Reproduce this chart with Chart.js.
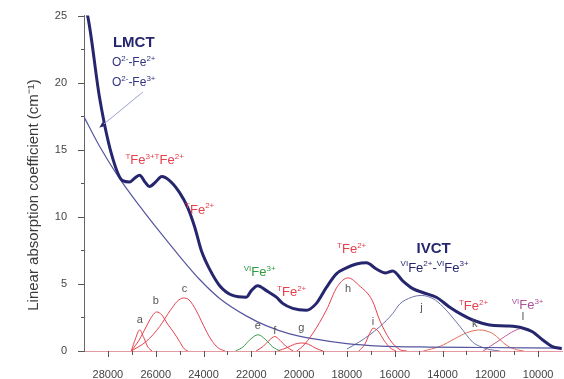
<!DOCTYPE html>
<html>
<head>
<meta charset="utf-8">
<script src="https://cdn.jsdelivr.net/npm/chart.js@4.4.0/dist/chart.umd.min.js"></script>
<style>
  html, body { margin: 0; padding: 0; background: #fff; }
  #wrap { width: 564px; height: 379px; }
</style>
</head>
<body>
<div id="wrap"><canvas id="absChart" width="564" height="379"></canvas></div>
<script>
// [wavenumber cm-1, absorption cm-1]
const totalCurve = [
  [29000, 25.6], [28850, 25.0], [28350, 18.9], [27860, 14.75], [27385, 12.7], [27090, 12.6],
  [26870, 12.9], [26670, 13.1], [26450, 12.6], [26255, 12.26], [26000, 12.6], [25750, 13.0],
  [25420, 12.7], [25000, 11.8], [24665, 10.7], [24372, 9.26], [24080, 7.43], [23745, 6.1],
  [23324, 4.87], [22780, 4.14], [22207, 4.01], [21998, 4.5], [21733, 4.87], [21369, 4.5],
  [20950, 4.01], [20687, 3.55], [20268, 3.18], [19695, 3.04], [19276, 3.55], [18857, 4.74],
  [18440, 5.75], [18020, 6.19], [17600, 6.48], [17183, 6.57], [16765, 6.11], [16375, 5.82],
  [16082, 5.97], [15665, 5.23], [15245, 4.65], [14828, 4.36], [14240, 3.99], [13697, 3.26],
  [13153, 2.67], [12735, 2.31], [12023, 1.94], [11326, 1.87], [10656, 1.72], [10236, 1.43],
  [9818, 0.84], [9400, 0.33], [9022, 0.18]
];
const lmctCurve = [
  [29000, 17.45], [28350, 15.26], [27510, 12.85], [26670, 10.8], [25836, 8.89], [25000, 7.06],
  [24160, 5.33], [23324, 3.92], [22194, 2.6], [21357, 1.87], [20394, 1.28], [19432, 0.92],
  [18008, 0.55], [16627, 0.37], [14534, 0.29], [12441, 0.26], [9000, 0.22]
];
const peakA = [[27020, 0], [26850, 0.9], [26670, 1.57], [26500, 1.0], [26330, 0.3], [26150, 0]];
const peakB = [[27020, 0], [26700, 0.8], [26400, 1.8], [26150, 2.6], [25960, 2.91], [25750, 2.7],
  [25500, 2.0], [25250, 1.4], [25000, 0.7], [24800, 0.15], [24650, 0]];
const peakC = [[27020, 0], [26390, 0.72], [25836, 1.82], [25400, 3.0], [25100, 3.7], [24850, 3.95],
  [24600, 3.8], [24300, 3.0], [24000, 1.9], [23700, 0.9], [23400, 0.25], [23100, 0]];
const peakE = [[22650, 0], [22350, 0.3], [22050, 0.85], [21720, 1.21], [21400, 0.85], [21100, 0.3], [20800, 0]];
const peakF = [[21800, 0], [21500, 0.35], [21250, 0.8], [21020, 1.08], [20800, 0.8], [20550, 0.35], [20250, 0]];
const peakG = [[20900, 0], [20500, 0.25], [20200, 0.5], [19900, 0.6], [19600, 0.5], [19300, 0.2], [19000, 0]];
const peakH = [[20100, 0], [19850, 0.35], [19420, 1.33], [18860, 3.04], [18400, 4.8], [17950, 5.45],
  [17500, 4.9], [16940, 3.77], [16630, 2.3], [16200, 0.84], [15780, 0.1], [15500, 0]];
const peakI = [[17500, 0], [17250, 0.5], [17050, 1.3], [16900, 1.7], [16700, 1.5], [16450, 0.8], [16200, 0.25], [15950, 0]];
const peakJ = [[18000, 0.15], [17460, 0.7], [16630, 1.8], [16080, 2.8], [15790, 3.5], [15300, 4.0],
  [14880, 4.14], [14400, 3.9], [13980, 3.3], [13280, 1.85], [12730, 0.65], [12440, 0.35], [12000, 0.1], [11600, 0]];
const peakK = [[14800, 0], [14100, 0.35], [13500, 0.9], [13000, 1.35], [12450, 1.57], [11900, 1.3], [11300, 0.4], [10900, 0.1], [10600, 0]];
const peakL = [[12300, 0], [12000, 0.35], [11500, 0.95], [11000, 1.5], [10630, 1.7], [10250, 1.45], [9800, 0.8], [9400, 0.3], [9000, 0.1]];

const xTickLabels = [28000, 26000, 24000, 22000, 20000, 18000, 16000, 14000, 12000, 10000];
const yTickLabels = [0, 5, 10, 15, 20, 25];

const RED = '#e5414d';
const NAVY = '#26266f';

const components = [
  { name: 'a', pts: peakA, color: RED, at: [26670, 2.3] },
  { name: 'b', pts: peakB, color: RED, at: [26000, 3.75] },
  { name: 'c', pts: peakC, color: RED, at: [24790, 4.6] },
  { name: 'e', pts: peakE, color: '#3a9e4a', at: [21730, 1.85] },
  { name: 'f', pts: peakF, color: RED, at: [21020, 1.5] },
  { name: 'g', pts: peakG, color: RED, at: [19905, 1.7] },
  { name: 'h', pts: peakH, color: RED, at: [17950, 4.65] },
  { name: 'i', pts: peakI, color: RED, at: [16907, 2.2] },
  { name: 'j', pts: peakJ, color: '#6c72a6', at: [14880, 3.2] },
  { name: 'k', pts: peakK, color: '#e0705a', at: [12650, 2.0] },
  { name: 'l', pts: peakL, color: '#c05a9a', at: [10630, 2.5] }
];

// text on the plot; {..} marks a superscript
const notes = [
  { t: 'LMCT', at: [26920, 23.0], color: NAVY, font: 'bold 15px', sup: 10 },
  { t: 'O{2-}-Fe{2+}', at: [26920, 21.5], color: '#333380', font: '12px', sup: 8 },
  { t: 'O{2-}-Fe{3+}', at: [26920, 20.0], color: '#333380', font: '12px', sup: 8 },
  { t: '{T}Fe{3+}{T}Fe{2+}', at: [26045, 14.2], color: RED, font: '13px', sup: 8 },
  { t: '{T}Fe{2+}', at: [24160, 10.5], color: RED, font: '13px', sup: 8 },
  { t: '{VI}Fe{3+}', at: [21650, 5.82], color: '#2f9a40', font: '13px', sup: 8 },
  { t: '{T}Fe{2+}', at: [20310, 4.36], color: RED, font: '13px', sup: 8 },
  { t: '{T}Fe{2+}', at: [17800, 7.58], color: RED, font: '13px', sup: 8 },
  { t: 'IVCT', at: [14370, 7.58], color: NAVY, font: 'bold 15px', sup: 10 },
  { t: '{VI}Fe{2+}-{VI}Fe{3+}', at: [14330, 6.19], color: NAVY, font: '13px', sup: 8 },
  { t: '{T}Fe{2+}', at: [12700, 3.33], color: RED, font: '13px', sup: 8 },
  { t: '{VI}Fe{3+}', at: [10440, 3.4], color: '#b0509a', font: '13px', sup: 8 }
];

const FONT = '"Liberation Sans", Arial, sans-serif';

function toXY(pairs) {
  return pairs.map(p => ({ x: p[0], y: p[1] }));
}

function drawRich(ctx, note, cx, cy) {
  const parts = [];
  note.t.replace(/\{([^}]*)\}|([^{]+)/g, (m, s, n) => { parts.push(s !== undefined ? { s: s, sup: true } : { s: n, sup: false }); });
  const mainFont = note.font + ' ' + FONT;
  const supFont = (note.font.startsWith('bold') ? 'bold ' : '') + note.sup + 'px ' + FONT;
  let w = 0;
  parts.forEach(p => { ctx.font = p.sup ? supFont : mainFont; p.w = ctx.measureText(p.s).width; w += p.w; });
  let x = cx - w / 2;
  ctx.fillStyle = note.color;
  ctx.textBaseline = 'middle';
  ctx.textAlign = 'left';
  parts.forEach(p => {
    ctx.font = p.sup ? supFont : mainFont;
    ctx.fillText(p.s, x, p.sup ? cy - 4 : cy);
    x += p.w;
  });
}

const decor = {
  id: 'decor',
  afterDraw(chart) {
    const ctx = chart.ctx;
    const xs = chart.scales.x, ys = chart.scales.y;
    const area = chart.chartArea;
    ctx.save();

    // tick marks, major and minor
    ctx.strokeStyle = '#555';
    ctx.lineWidth = 1;
    for (let w = 10000; w <= 28000; w += 1000) {
      const px = Math.round(xs.getPixelForValue(w)) + 0.5;
      const len = w % 2000 === 0 ? 6 : 4;
      ctx.beginPath(); ctx.moveTo(px, area.bottom); ctx.lineTo(px, area.bottom + len); ctx.stroke();
    }
    for (let v = 0; v <= 25; v += 2.5) {
      const py = Math.round(ys.getPixelForValue(v)) + 0.5;
      const len = v % 5 === 0 ? 6 : 3;
      ctx.beginPath(); ctx.moveTo(area.left, py); ctx.lineTo(area.left - len, py); ctx.stroke();
    }

    // y title
    ctx.translate(34, 195);
    ctx.rotate(-Math.PI / 2);
    ctx.fillStyle = '#3a3a3a';
    ctx.font = '15px ' + FONT;
    ctx.textAlign = 'center';
    ctx.textBaseline = 'middle';
    ctx.fillText('Linear absorption coefficient (cm\u207B\u00B9)', 0, 0);
    ctx.setTransform(1, 0, 0, 1, 0, 0);

    // arrow from LMCT label to background curve
    const ax0 = xs.getPixelForValue(26540), ay0 = ys.getPixelForValue(19.3);
    const ax1 = xs.getPixelForValue(28350), ay1 = ys.getPixelForValue(16.65);
    ctx.strokeStyle = '#9aa0d0';
    ctx.beginPath(); ctx.moveTo(ax0, ay0); ctx.lineTo(ax1, ay1); ctx.stroke();
    const ang = Math.atan2(ay1 - ay0, ax1 - ax0);
    ctx.fillStyle = NAVY;
    ctx.beginPath();
    ctx.moveTo(ax1, ay1);
    ctx.lineTo(ax1 - 6 * Math.cos(ang - 0.4), ay1 - 6 * Math.sin(ang - 0.4));
    ctx.lineTo(ax1 - 6 * Math.cos(ang + 0.4), ay1 - 6 * Math.sin(ang + 0.4));
    ctx.closePath(); ctx.fill();

    // component letters
    ctx.font = '11px ' + FONT;
    ctx.fillStyle = '#555';
    ctx.textAlign = 'center';
    ctx.textBaseline = 'middle';
    components.forEach(c => {
      ctx.fillText(c.name, xs.getPixelForValue(c.at[0]), ys.getPixelForValue(c.at[1]));
    });

    notes.forEach(n => drawRich(ctx, n, xs.getPixelForValue(n.at[0]), ys.getPixelForValue(n.at[1])));
    ctx.restore();
  }
};

const datasets = [
  { data: toXY(totalCurve), borderColor: NAVY, borderWidth: 3, cubicInterpolationMode: 'monotone', order: 0 },
  { data: toXY(lmctCurve), borderColor: '#5656a0', borderWidth: 1.2, cubicInterpolationMode: 'monotone', order: 1 }
].concat(components.map(c => ({
  data: toXY(c.pts), borderColor: c.color, borderWidth: 1, cubicInterpolationMode: 'monotone', order: 2
})));

new Chart(document.getElementById('absChart'), {
  type: 'line',
  data: { datasets: datasets },
  options: {
    responsive: false,
    animation: false,
    devicePixelRatio: 1,
    elements: { point: { radius: 0 } },
    layout: { padding: { top: 10, right: 2, left: 0, bottom: 0 } },
    plugins: { legend: { display: false }, tooltip: { enabled: false } },
    scales: {
      x: {
        type: 'linear',
        reverse: true,
        min: 9000,
        max: 29000,
        afterFit: s => { s.height = 28; },
        afterBuildTicks: s => { s.ticks = xTickLabels.map(v => ({ value: v })); },
        grid: { display: false },
        border: { color: '#e59aa2', width: 1 },
        ticks: {
          color: '#444', font: { family: FONT, size: 11 }, padding: 9, maxRotation: 0, autoSkip: false,
          callback: v => String(v)
        }
      },
      y: {
        min: 0,
        max: 25,
        afterFit: s => { s.width = 84; },
        afterBuildTicks: s => { s.ticks = yTickLabels.map(v => ({ value: v })); },
        grid: { display: false },
        border: { color: '#666', width: 1 },
        ticks: { color: '#444', font: { family: FONT, size: 11 }, padding: 9 }
      }
    }
  },
  plugins: [decor]
});
</script>
</body>
</html>
